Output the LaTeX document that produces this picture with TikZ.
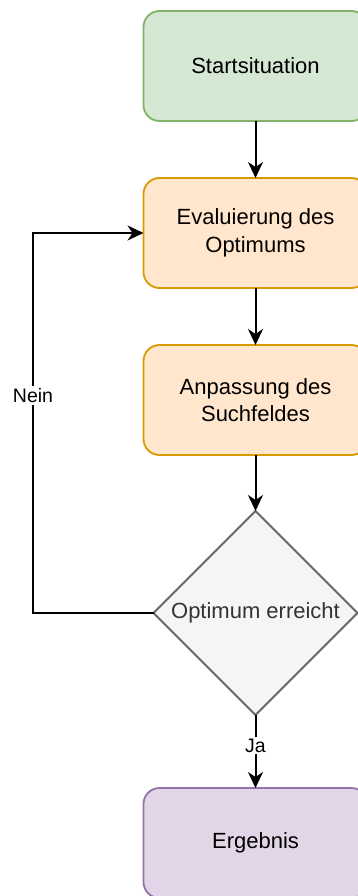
\documentclass[tikz,border=0pt]{standalone}
\usepackage{fontspec}
\setmainfont{Liberation Sans}
\usetikzlibrary{arrows.meta,shapes.geometric}

\definecolor{greenfill}{HTML}{D5E8D4}
\definecolor{greenline}{HTML}{82B366}
\definecolor{orangefill}{HTML}{FFE6CC}
\definecolor{orangeline}{HTML}{D79B00}
\definecolor{purplefill}{HTML}{E1D5E7}
\definecolor{purpleline}{HTML}{9673A6}
\definecolor{greyfill}{HTML}{F5F5F5}
\definecolor{greyline}{HTML}{666666}
\definecolor{greytext}{HTML}{333333}

\tikzset{
  procbox/.style={rectangle, rounded corners=16pt, line width=1.8pt,
    minimum width=224pt, minimum height=110pt, inner sep=0pt, outer sep=0pt,
    align=center, font=\fontsize{22}{27.5}\selectfont},
  decbox/.style={diamond, aspect=1, line width=1.8pt, draw=greyline, fill=greyfill,
    text=greytext, minimum width=204pt, minimum height=204pt, inner sep=0pt,
    outer sep=0pt, font=\fontsize{22}{27.5}\selectfont},
  flow/.style={line width=2pt, -{Stealth[length=16pt, width=15pt, inset=5pt]}},
  edgelabel/.style={fill=white, inner sep=2pt, font=\fontsize{19.5}{24}\selectfont}
}

\begin{document}
\begin{tikzpicture}[x=1pt, y=1pt]
  \useasboundingbox (0,0) rectangle (357,-896);

  \node[procbox, fill=greenfill, draw=greenline] (start) at (255.5,-66) {Startsituation};
  \node[procbox, fill=orangefill, draw=orangeline] (eval) at (255.5,-233) {Evaluierung des\\Optimums};
  \node[procbox, fill=orangefill, draw=orangeline] (adapt) at (255.5,-400) {Anpassung des\\Suchfeldes};
  \node[decbox] (check) at (255.5,-613) {Optimum erreicht};
  \node[procbox, fill=purplefill, draw=purpleline] (result) at (255.5,-843) {Ergebnis};

  \coordinate (loopcorner) at (33,-613);

  \draw[flow] (start) -- (eval);
  \draw[flow] (eval) -- (adapt);
  \draw[flow] (adapt) -- (check);
  \draw[flow] (check.south) -- node[edgelabel, pos=0.42] {Ja} (result.north);
  \draw[flow, rounded corners=0pt] (check.west) -- (loopcorner)
    |- node[edgelabel, pos=0.286] {Nein} (eval.west);
\end{tikzpicture}
\end{document}
